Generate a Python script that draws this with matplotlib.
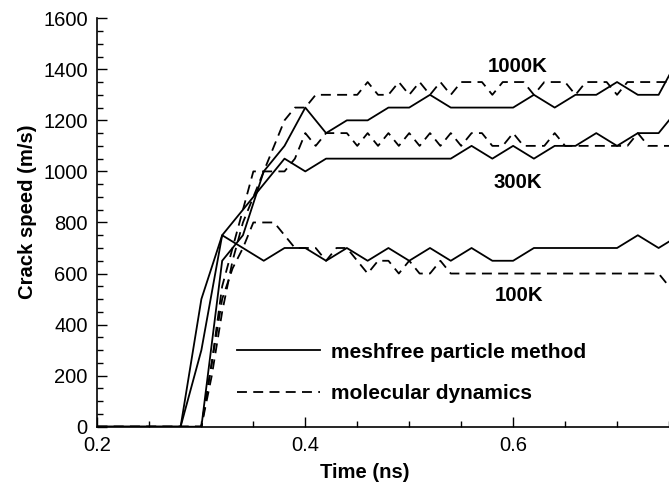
import matplotlib
matplotlib.use('Agg')
import matplotlib.pyplot as plt
from matplotlib.ticker import MultipleLocator

plt.rcParams['font.family'] = ['Liberation Sans', 'DejaVu Sans']

# meshfree particle method, sampled every 0.02 ns
t_mf = [0.20, 0.28, 0.30, 0.32, 0.34, 0.36, 0.38, 0.40, 0.42, 0.44, 0.46, 0.48, 0.50,
        0.52, 0.54, 0.56, 0.58, 0.60, 0.62, 0.64, 0.66, 0.68, 0.70, 0.72, 0.74, 0.76]
mf_100 = [0, 0, 500, 750, 700, 650, 700, 700, 650, 700, 650, 700, 650,
          700, 650, 700, 650, 650, 700, 700, 700, 700, 700, 750, 700, 750]
mf_300 = [0, 0, 300, 750, 850, 950, 1050, 1000, 1050, 1050, 1050, 1050, 1050,
          1050, 1050, 1100, 1050, 1100, 1050, 1100, 1100, 1150, 1100, 1150, 1150, 1250]
mf_1000 = [0, 0, 0, 650, 750, 1000, 1100, 1250, 1150, 1200, 1200, 1250, 1250,
           1300, 1250, 1250, 1250, 1250, 1300, 1250, 1300, 1300, 1350, 1300, 1300, 1450]

# molecular dynamics, sampled every 0.01 ns
t_md = [0.20, 0.30, 0.31, 0.32, 0.33, 0.34, 0.35, 0.36, 0.37, 0.38, 0.39, 0.40,
        0.41, 0.42, 0.43, 0.44, 0.45, 0.46, 0.47, 0.48, 0.49, 0.50, 0.51, 0.52,
        0.53, 0.54, 0.55, 0.56, 0.57, 0.58, 0.59, 0.60, 0.61, 0.62, 0.63, 0.64,
        0.65, 0.66, 0.67, 0.68, 0.69, 0.70, 0.71, 0.72, 0.73, 0.74, 0.75, 0.76]
md_100 = [0, 0, 250, 500, 620, 700, 800, 800, 800, 750, 700, 700,
          700, 650, 700, 700, 650, 600, 650, 650, 600, 650, 600, 600,
          650, 600, 600, 600, 600, 600, 600, 600, 600, 600, 600, 600,
          600, 600, 600, 600, 600, 600, 600, 600, 600, 600, 550, 500]
md_300 = [0, 0, 250, 550, 700, 850, 1000, 1000, 1000, 1000, 1050, 1150,
          1100, 1150, 1150, 1150, 1100, 1150, 1100, 1150, 1100, 1150, 1100, 1150,
          1100, 1150, 1100, 1150, 1150, 1100, 1100, 1150, 1100, 1100, 1100, 1150,
          1100, 1100, 1100, 1100, 1100, 1100, 1100, 1150, 1100, 1100, 1100, 1100]
md_1000 = [0, 0, 200, 450, 650, 800, 900, 1000, 1100, 1200, 1250, 1250,
           1300, 1300, 1300, 1300, 1300, 1350, 1300, 1300, 1350, 1300, 1350, 1300,
           1350, 1300, 1350, 1350, 1350, 1300, 1350, 1350, 1350, 1300, 1350, 1350,
           1350, 1300, 1350, 1350, 1350, 1300, 1350, 1350, 1350, 1350, 1350, 1350]

temp_labels = ['1000K', '300K', '100K']
label_x = [0.604, 0.605, 0.606]
label_y = [1410, 955, 512]

fig = plt.figure(figsize=(6.69, 4.82), dpi=100)
ax = fig.add_axes([0.1457, 0.1147, 0.8543, 0.8475])

lw = 1.3
for vals in (mf_100, mf_300, mf_1000):
    ax.plot(t_mf, vals, color='black', linewidth=lw)
for vals in (md_100, md_300, md_1000):
    ax.plot(t_md, vals, color='black', linewidth=lw, dashes=(5.5, 3.5))

for txt, x, y in zip(temp_labels, label_x, label_y):
    ax.text(x, y, txt, fontsize=14.7, fontweight='bold', ha='center', va='center')

h1, = ax.plot([], [], color='black', linewidth=lw)
h2, = ax.plot([], [], color='black', linewidth=lw, dashes=(5.5, 3.5))
ax.legend([h1, h2], ['meshfree particle method', 'molecular dynamics'],
          loc='center left', bbox_to_anchor=(0.2436, 0.1317), frameon=False,
          borderpad=0, borderaxespad=0, handlelength=4.0, handletextpad=0.55,
          labelspacing=1.08, prop={'size': 15, 'weight': 'bold'})

ax.set_xlim(0.2, 0.75)
ax.set_ylim(0, 1600)
ax.xaxis.set_major_locator(MultipleLocator(0.2))
ax.xaxis.set_minor_locator(MultipleLocator(0.05))
ax.yaxis.set_major_locator(MultipleLocator(200))
ax.yaxis.set_minor_locator(MultipleLocator(50))
ax.tick_params(which='both', direction='in', labelsize=14.5, width=1.0)
ax.tick_params(which='major', length=7, pad=7)
ax.tick_params(which='minor', length=4)
ax.set_xticks([0.2, 0.4, 0.6])
ax.set_xticklabels(['0.2', '0.4', '0.6'])

for side in ('top', 'right'):
    ax.spines[side].set_visible(False)
for side in ('left', 'bottom'):
    ax.spines[side].set_linewidth(1.2)

ax.set_xlabel('Time (ns)', fontsize=14.6, fontweight='bold')
ax.set_ylabel('Crack speed (m/s)', fontsize=14.6, fontweight='bold')
ax.xaxis.set_label_coords(0.468, -0.089)
ax.yaxis.set_label_coords(-0.106, 0.5256)

fig.savefig('out.png', dpi=100)
plt.close(fig)
